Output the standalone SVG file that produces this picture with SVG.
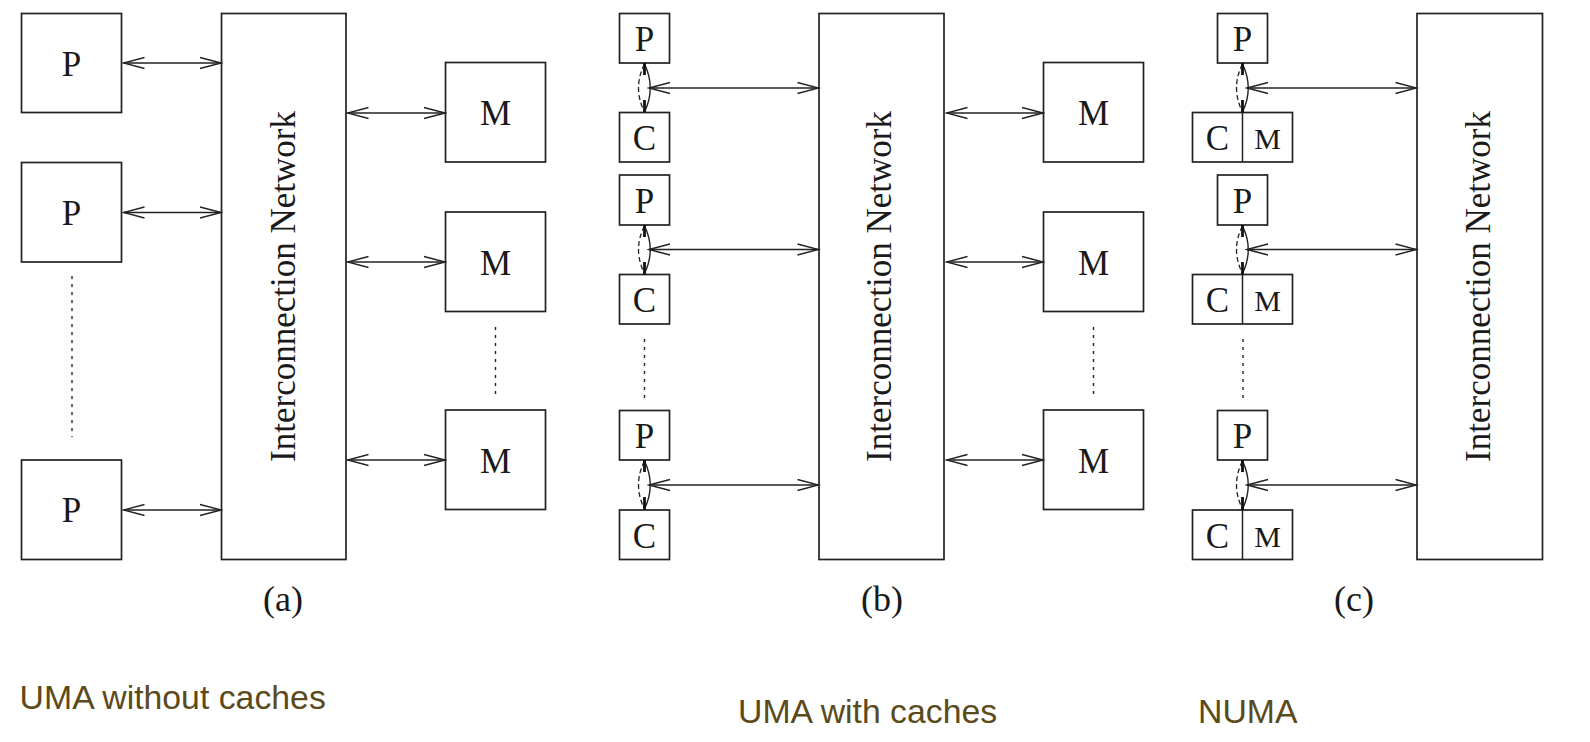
<svg xmlns="http://www.w3.org/2000/svg" width="1590" height="742" viewBox="0 0 1590 742">
<style>
.box{fill:#fff;stroke:#222;stroke-width:1.7}
.lbl{font-family:"Liberation Serif","Times New Roman",serif;font-size:35px;fill:#1a1a1a;text-anchor:middle}
.lbls{font-family:"Liberation Serif","Times New Roman",serif;font-size:30px;fill:#1a1a1a;text-anchor:middle}
.net{font-family:"Liberation Serif","Times New Roman",serif;font-size:35px;fill:#1a1a1a;text-anchor:middle}
.cap{font-family:"Liberation Serif","Times New Roman",serif;font-size:36px;fill:#1a1a1a;text-anchor:middle}
.title{font-family:"Liberation Sans",Arial,sans-serif;font-size:33.8px;fill:#5b4a1a}
.conn{stroke:#222;stroke-width:1.5;fill:none}
.dot{stroke:#222;stroke-width:1.4;stroke-dasharray:3 5;fill:none}
.lensd{stroke:#222;stroke-width:1.3;fill:none;stroke-dasharray:5 3}
.lenss{stroke:#222;stroke-width:1.4;fill:none}
.tip{stroke:#111;stroke-width:2.8}
</style>
<defs>
<marker id="ah" viewBox="-23 -7 25 14" refX="0" refY="0" markerWidth="25" markerHeight="14" markerUnits="userSpaceOnUse" orient="auto-start-reverse">
<path d="M -21 -5.5 L 0 0 L -21 5.5" fill="none" stroke="#222" stroke-width="1.3"/>
</marker>
</defs>

<!-- Panel (a) -->
<g id="a-P1"><rect class="box" x="21.5" y="13.5" width="100" height="99"/><text class="lbl" x="71.5" y="75.5">P</text></g>
<g id="a-P2"><rect class="box" x="21.5" y="162.5" width="100" height="99.5"/><text class="lbl" x="71.5" y="224.5">P</text></g>
<g id="a-P3"><rect class="box" x="21.5" y="460" width="100" height="99.5"/><text class="lbl" x="71.5" y="522">P</text></g>
<g id="a-net"><rect class="box" x="221.5" y="13.5" width="124.5" height="546"/><text class="net" transform="translate(295,286.5) rotate(-90)">Interconnection Network</text></g>
<g id="a-M1"><rect class="box" x="445.5" y="62.5" width="100" height="99.5"/><text class="lbl" x="495.5" y="125">M</text></g>
<g id="a-M2"><rect class="box" x="445.5" y="212" width="100" height="99.5"/><text class="lbl" x="495.5" y="274.5">M</text></g>
<g id="a-M3"><rect class="box" x="445.5" y="410" width="100" height="99.5"/><text class="lbl" x="495.5" y="472.5">M</text></g>
<g id="a-cap"><text class="cap" x="283" y="611">(a)</text></g>
<g id="a-title"><text class="title" x="19.6" y="709">UMA without caches</text></g>

<!-- Panel (b) -->
<g id="b-P1"><rect class="box" x="619.5" y="13.5" width="50" height="49.5"/><text class="lbl" x="644.5" y="50.5">P</text></g>
<g id="b-C1"><rect class="box" x="619.5" y="112.5" width="50" height="49.5"/><text class="lbl" x="644.5" y="150">C</text></g>
<g id="b-P2"><rect class="box" x="619.5" y="175" width="50" height="50"/><text class="lbl" x="644.5" y="212.5">P</text></g>
<g id="b-C2"><rect class="box" x="619.5" y="274.5" width="50" height="49.5"/><text class="lbl" x="644.5" y="312">C</text></g>
<g id="b-P3"><rect class="box" x="619.5" y="410.5" width="50" height="49.5"/><text class="lbl" x="644.5" y="447.5">P</text></g>
<g id="b-C3"><rect class="box" x="619.5" y="510" width="50" height="49.5"/><text class="lbl" x="644.5" y="547.5">C</text></g>
<g id="b-net"><rect class="box" x="819" y="13.5" width="125" height="546"/><text class="net" transform="translate(891,286.5) rotate(-90)">Interconnection Network</text></g>
<g id="b-M1"><rect class="box" x="1043.5" y="62.5" width="100" height="99.5"/><text class="lbl" x="1093.5" y="125">M</text></g>
<g id="b-M2"><rect class="box" x="1043.5" y="212" width="100" height="99.5"/><text class="lbl" x="1093.5" y="274.5">M</text></g>
<g id="b-M3"><rect class="box" x="1043.5" y="410" width="100" height="99.5"/><text class="lbl" x="1093.5" y="472.5">M</text></g>
<g id="b-cap"><text class="cap" x="882" y="611">(b)</text></g>
<g id="b-title"><text class="title" x="738" y="722.5">UMA with caches</text></g>

<!-- Panel (c) -->
<g id="c-P1"><rect class="box" x="1217.5" y="13.5" width="50" height="49.5"/><text class="lbl" x="1242.5" y="50.5">P</text></g>
<g id="c-CM1"><rect class="box" x="1192.5" y="112.5" width="100" height="49.5"/><line class="conn" x1="1242.5" y1="112.5" x2="1242.5" y2="162"/><text class="lbl" x="1217.5" y="150">C</text><text class="lbls" x="1267.5" y="149">M</text></g>
<g id="c-P2"><rect class="box" x="1217.5" y="175" width="50" height="50"/><text class="lbl" x="1242.5" y="212.5">P</text></g>
<g id="c-CM2"><rect class="box" x="1192.5" y="274.5" width="100" height="49.5"/><line class="conn" x1="1242.5" y1="274.5" x2="1242.5" y2="324"/><text class="lbl" x="1217.5" y="312">C</text><text class="lbls" x="1267.5" y="311">M</text></g>
<g id="c-P3"><rect class="box" x="1217.5" y="410.5" width="50" height="49.5"/><text class="lbl" x="1242.5" y="447.5">P</text></g>
<g id="c-CM3"><rect class="box" x="1192.5" y="510" width="100" height="49.5"/><line class="conn" x1="1242.5" y1="510" x2="1242.5" y2="559.5"/><text class="lbl" x="1217.5" y="547.5">C</text><text class="lbls" x="1267.5" y="546.5">M</text></g>
<g id="c-net"><rect class="box" x="1417" y="13.5" width="125.5" height="546"/><text class="net" transform="translate(1490,286.5) rotate(-90)">Interconnection Network</text></g>
<g id="c-cap"><text class="cap" x="1354" y="611">(c)</text></g>
<g id="c-title"><text class="title" x="1198" y="722.5">NUMA</text></g>

<!-- Connectors -->
<g id="connectors">
<line class="conn" x1="123.5" y1="63" x2="221" y2="63" marker-start="url(#ah)" marker-end="url(#ah)"/>
<line class="conn" x1="123.5" y1="212.5" x2="221" y2="212.5" marker-start="url(#ah)" marker-end="url(#ah)"/>
<line class="conn" x1="123.5" y1="510" x2="221" y2="510" marker-start="url(#ah)" marker-end="url(#ah)"/>
<line class="conn" x1="347.5" y1="113" x2="445" y2="113" marker-start="url(#ah)" marker-end="url(#ah)"/>
<line class="conn" x1="347.5" y1="262" x2="445" y2="262" marker-start="url(#ah)" marker-end="url(#ah)"/>
<line class="conn" x1="347.5" y1="460" x2="445" y2="460" marker-start="url(#ah)" marker-end="url(#ah)"/>
<line class="dot" x1="72" y1="276" x2="72" y2="437"/>
<line class="dot" x1="495.5" y1="327" x2="495.5" y2="399"/>

<line class="conn" x1="649" y1="88" x2="818.5" y2="88" marker-start="url(#ah)" marker-end="url(#ah)"/>
<line class="conn" x1="649" y1="249.5" x2="818.5" y2="249.5" marker-start="url(#ah)" marker-end="url(#ah)"/>
<line class="conn" x1="649" y1="485" x2="818.5" y2="485" marker-start="url(#ah)" marker-end="url(#ah)"/>
<line class="conn" x1="946.5" y1="113" x2="1043" y2="113" marker-start="url(#ah)" marker-end="url(#ah)"/>
<line class="conn" x1="946.5" y1="262" x2="1043" y2="262" marker-start="url(#ah)" marker-end="url(#ah)"/>
<line class="conn" x1="946.5" y1="460" x2="1043" y2="460" marker-start="url(#ah)" marker-end="url(#ah)"/>
<line class="dot" x1="644.5" y1="339" x2="644.5" y2="398"/>
<line class="dot" x1="1093.5" y1="327" x2="1093.5" y2="399"/>
<g id="b-lens1"><path class="lensd" d="M644.5 64 Q632.5 88 644.5 112"/><path class="lenss" d="M644.5 64 Q656 88 644.5 112"/><line class="tip" x1="644.5" y1="63" x2="644.5" y2="75"/><line class="tip" x1="644.5" y1="100" x2="644.5" y2="112.5"/></g>
<g id="b-lens2"><path class="lensd" d="M644.5 226 Q632.5 249.5 644.5 273.5"/><path class="lenss" d="M644.5 226 Q656 249.5 644.5 273.5"/><line class="tip" x1="644.5" y1="225" x2="644.5" y2="237"/><line class="tip" x1="644.5" y1="262" x2="644.5" y2="274.5"/></g>
<g id="b-lens3"><path class="lensd" d="M644.5 461 Q632.5 485 644.5 509"/><path class="lenss" d="M644.5 461 Q656 485 644.5 509"/><line class="tip" x1="644.5" y1="460" x2="644.5" y2="472"/><line class="tip" x1="644.5" y1="497" x2="644.5" y2="510"/></g>

<line class="conn" x1="1247" y1="88" x2="1416.5" y2="88" marker-start="url(#ah)" marker-end="url(#ah)"/>
<line class="conn" x1="1247" y1="249.5" x2="1416.5" y2="249.5" marker-start="url(#ah)" marker-end="url(#ah)"/>
<line class="conn" x1="1247" y1="485" x2="1416.5" y2="485" marker-start="url(#ah)" marker-end="url(#ah)"/>
<line class="dot" x1="1243" y1="339" x2="1243" y2="398"/>
<g id="c-lens1"><path class="lensd" d="M1242.5 64 Q1230.5 88 1242.5 112"/><path class="lenss" d="M1242.5 64 Q1254 88 1242.5 112"/><line class="tip" x1="1242.5" y1="63" x2="1242.5" y2="75"/><line class="tip" x1="1242.5" y1="100" x2="1242.5" y2="112.5"/></g>
<g id="c-lens2"><path class="lensd" d="M1242.5 226 Q1230.5 249.5 1242.5 273.5"/><path class="lenss" d="M1242.5 226 Q1254 249.5 1242.5 273.5"/><line class="tip" x1="1242.5" y1="225" x2="1242.5" y2="237"/><line class="tip" x1="1242.5" y1="262" x2="1242.5" y2="274.5"/></g>
<g id="c-lens3"><path class="lensd" d="M1242.5 461 Q1230.5 485 1242.5 509"/><path class="lenss" d="M1242.5 461 Q1254 485 1242.5 509"/><line class="tip" x1="1242.5" y1="460" x2="1242.5" y2="472"/><line class="tip" x1="1242.5" y1="497" x2="1242.5" y2="510"/></g>
</g>
</svg>
